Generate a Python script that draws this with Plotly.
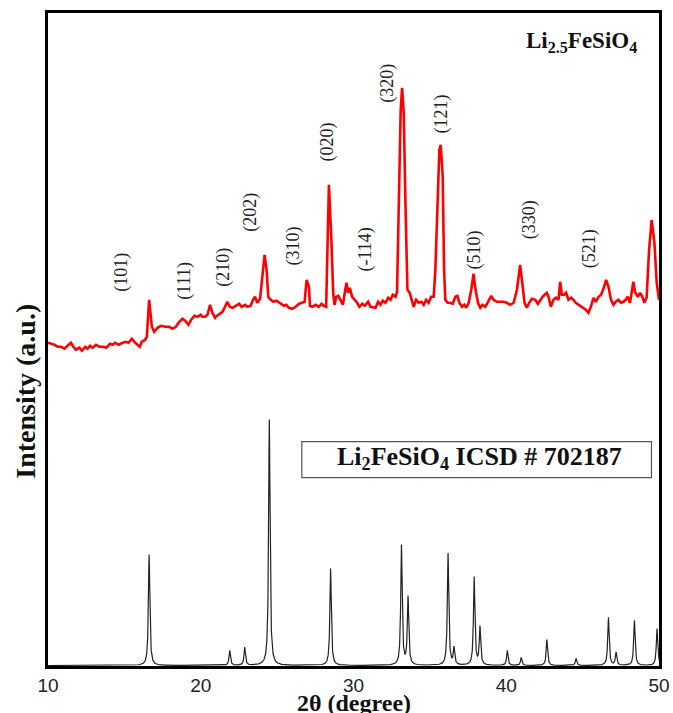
import numpy as np
import plotly.graph_objects as go

red_x = [10.0, 10.41, 10.63, 10.85, 11.07, 11.35, 11.50, 11.66, 11.83, 12.05, 12.22, 12.44, 12.59, 12.75,
         12.92, 13.14, 13.36, 13.62, 13.83, 14.05, 14.23, 14.40, 14.62, 14.88, 15.10, 15.27, 15.49, 15.71,
         15.88, 16.01, 16.14, 16.36, 16.47, 16.62, 16.80, 16.95, 17.17, 17.39, 17.71, 17.93, 18.15, 18.37,
         18.54, 18.80, 18.98, 19.19, 19.37, 19.59, 19.78, 20.00, 20.11, 20.28, 20.44, 20.61, 20.76, 20.94,
         20.98, 21.20, 21.42, 21.59, 21.74, 21.90, 22.07, 22.29, 22.51, 22.68, 22.90, 23.05, 23.27, 23.42,
         23.55, 23.70, 23.88, 24.03, 24.18, 24.31, 24.42, 24.58, 24.75, 24.95, 25.12, 25.29, 25.45, 25.60,
         25.77, 25.99, 26.21, 26.43, 26.65, 26.80, 26.93, 27.08, 27.15, 27.30, 27.52, 27.73, 27.91, 28.06,
         28.21, 28.39, 28.56, 28.67, 28.76, 28.87, 29.00, 29.15, 29.30, 29.43, 29.54, 29.65, 29.76, 29.91,
         30.09, 30.24, 30.39, 30.57, 30.74, 30.96, 31.11, 31.33,
         31.44, 31.61, 31.76, 31.92, 32.09, 32.27, 32.42, 32.57, 32.75, 32.85, 32.96, 33.09, 33.18, 33.29,
         33.40, 33.53, 33.68, 33.83, 33.94, 34.10, 34.27, 34.44, 34.60, 34.75, 34.92, 35.08, 35.25, 35.36,
         35.49, 35.62, 35.71, 35.84, 35.93, 36.01, 36.17, 36.34, 36.49, 36.67, 36.80, 36.93, 37.10, 37.25,
         37.38, 37.54, 37.71, 37.86, 37.99, 38.15, 38.30, 38.45, 38.63, 38.85, 39.02, 39.17, 39.39, 39.61,
         39.83, 40.04, 40.26, 40.48, 40.70, 40.91, 41.07, 41.20,
         41.35, 41.50, 41.68, 41.90, 42.07, 42.22, 42.38, 42.51, 42.66, 42.77, 42.92, 43.09, 43.25, 43.42,
         43.53, 43.64, 43.79, 43.92, 44.07, 44.25, 44.40, 44.55, 44.73, 44.90, 45.06, 45.21, 45.38, 45.56,
         45.71, 45.86, 46.04, 46.21, 46.36, 46.54, 46.69, 46.86, 47.02, 47.17, 47.34, 47.52, 47.67, 47.82,
         47.95, 48.10, 48.21, 48.32, 48.43, 48.61, 48.76, 48.91, 49.04, 49.19, 49.35, 49.52, 49.70, 49.85,
         50.0]
red_y = [323, 321, 319, 319, 317, 321, 323, 319, 316, 318, 315, 319, 317, 320,
         318, 321, 319, 319, 318, 322, 321, 323, 321, 323, 324, 323, 327, 323,
         321, 319, 324, 326, 329, 366, 339, 334, 338, 340, 339, 339, 337, 339,
         343, 347, 345, 341, 346, 350, 349, 351, 349, 349, 351, 361, 353, 348,
         349, 352, 354, 359, 364, 359, 358, 360, 362, 359, 361, 359, 360, 366,
         369, 363, 367, 389, 411, 396, 369, 366, 364, 365, 363, 361, 360, 361,
         358, 357, 359, 362, 363, 364, 386, 379, 360, 359, 361, 359, 362, 360,
         359, 481, 423, 373, 361, 369, 370, 366, 361, 373, 383, 373, 378, 369,
         366, 363, 359, 362, 360, 364, 359, 358,
         358, 364, 361, 365, 363, 368, 366, 371, 369, 374, 463, 556, 578, 553,
         463, 376, 373, 363, 359, 366, 363, 364, 361, 366, 363, 369, 369, 396,
         463, 516, 521, 489, 396, 366, 363, 363, 362, 369, 370, 363, 359, 361,
         358, 363, 376, 392, 376, 363, 358, 361, 359, 366, 370, 366, 364, 364,
         364, 363, 361, 363, 376, 401, 383, 363,
         358, 363, 367, 366, 362, 366, 369, 371, 373, 369, 359, 366, 368, 366,
         384, 371, 371, 373, 366, 368, 366, 363, 361, 359, 358, 356, 353, 360,
         368, 364, 369, 371, 377, 386, 379, 366, 361, 364, 366, 363, 364, 366,
         369, 363, 373, 384, 374, 369, 373, 369, 363, 368, 416, 446, 423, 383,
         366]

# ---- reference pattern (Li2FeSiO4 ICSD # 702187): peak positions and heights ----
ref_pos = [16.62, 21.90, 22.88, 24.49, 28.50, 33.14, 33.57, 36.19, 36.58, 37.90,
           38.28, 40.07, 40.98, 42.66, 44.57, 46.69, 47.19, 48.39, 49.87]
ref_h = [111, 15, 18, 246, 97, 120, 68, 112, 17, 88,
         38, 15, 8, 26, 7, 48, 13, 45, 37]
ref_hwhm = 0.055

# ---- Miller index labels ----
hkl_text = ["(101)", "(111)", "(210)", "(202)", "(310)", "(020)", "(-114)",
            "(320)", "(121)", "(510)", "(330)", "(521)"]
hkl_x = [14.84, 18.96, 21.51, 23.28, 26.09, 28.31, 30.80, 32.24, 35.77, 37.93, 41.52, 45.45]
hkl_y = [394, 385, 399, 454, 420, 524, 416, 583, 552, 416, 446, 417]

x_ticks = [10, 20, 30, 40, 50]

# reference profile rendered on a fine grid from the peak list
gx = np.arange(10.0, 50.0001, 0.01)
gy = np.zeros_like(gx)
for p, h in zip(ref_pos, ref_h):
    gy += h * ref_hwhm**2 / ((gx - p) ** 2 + ref_hwhm**2)

fig = go.Figure()
fig.add_trace(go.Scatter(x=gx, y=gy, mode="lines",
                         line=dict(color="#222222", width=1.2), showlegend=False))
fig.add_trace(go.Scatter(x=red_x, y=red_y, mode="lines",
                         line=dict(color="#ff0000", width=2.6), showlegend=False))

serif = "Liberation Serif, Times New Roman, serif"
for t, x, y in zip(hkl_text, hkl_x, hkl_y):
    fig.add_annotation(x=x, y=y, text=t, showarrow=False, textangle=-90,
                       font=dict(family=serif, size=18, color="#222222"),
                       xanchor="center", yanchor="middle")

# sample label (top right)
fig.add_annotation(xref="paper", yref="paper", x=0.968, y=0.956,
                   text="<b>Li<sub>2.5</sub>FeSiO<sub>4</sub></b>", showarrow=False,
                   xanchor="right", yanchor="middle",
                   font=dict(family=serif, size=23, color="#111111"))

# reference box label
fig.add_shape(type="rect", xref="paper", yref="paper",
              x0=0.4154, x1=0.9877, y0=0.2885, y1=0.3435,
              line=dict(color="#555555", width=1.2), fillcolor="rgba(0,0,0,0)")
fig.add_annotation(xref="paper", yref="paper", x=0.7065, y=0.318,
                   text="<b>Li<sub>2</sub>FeSiO<sub>4</sub> ICSD # 702187</b>", showarrow=False,
                   xanchor="center", yanchor="middle",
                   font=dict(family=serif, size=26, color="#111111"))

# axis titles
fig.add_annotation(xref="paper", yref="paper", x=0.5, y=-0.056,
                   text="<b>2θ (degree)</b>", showarrow=False,
                   xanchor="center", yanchor="middle",
                   font=dict(family=serif, size=24, color="#111111"))
fig.add_annotation(xref="paper", yref="paper", x=-0.036, y=0.42,
                   text="<b>Intensity (a.u.)</b>", showarrow=False, textangle=-90,
                   xanchor="center", yanchor="middle",
                   font=dict(family=serif, size=28, color="#111111"))

fig.update_layout(
    width=673, height=713, autosize=False,
    margin=dict(l=48, r=13.5, t=13, b=46.5, autoexpand=False),
    paper_bgcolor="white", plot_bgcolor="white",
    xaxis=dict(range=[10, 50], tickvals=x_ticks, ticktext=[str(v) for v in x_ticks],
               automargin=False,
               showgrid=False, zeroline=False, ticks="",
               showline=True, mirror=True, linecolor="black", linewidth=3,
               tickfont=dict(family="Liberation Sans", size=19, color="#222222")),
    yaxis=dict(range=[-0.5, 653], showticklabels=False, showgrid=False, zeroline=False,
               automargin=False,
               ticks="", showline=True, mirror=True, linecolor="black", linewidth=3),
)

fig.write_html("out.html", config={"responsive": False, "displayModeBar": False},
               post_script="document.body.style.margin='0px';document.body.style.overflow='hidden';")
